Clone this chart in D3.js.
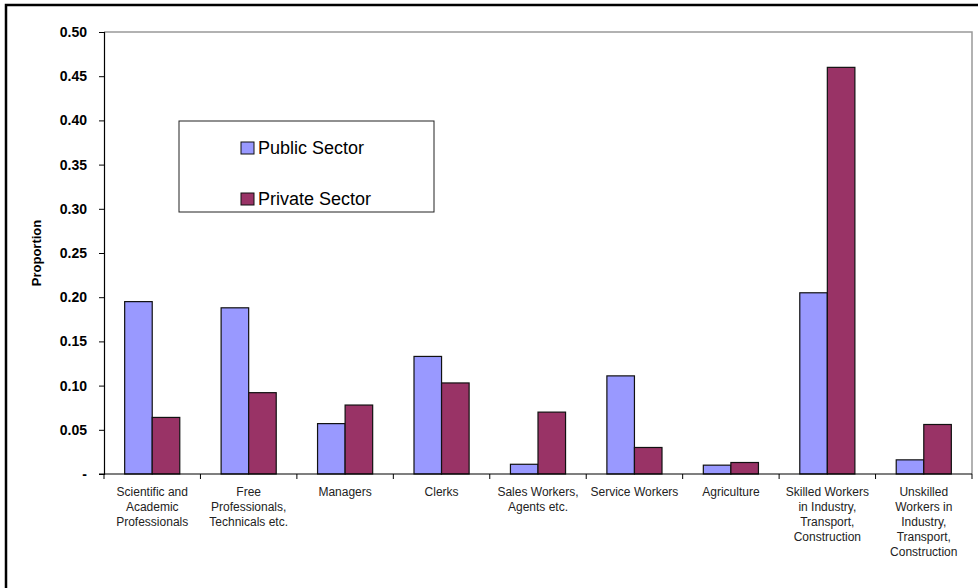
<!DOCTYPE html>
<html>
<head>
<meta charset="utf-8">
<script src="https://cdn.jsdelivr.net/npm/d3@7"></script>
<style>
  body { margin: 0; background: #fff; }
  svg { display: block; font-family: "Liberation Sans", Arial, sans-serif; }
</style>
</head>
<body>
<div id="chart"></div>
<script>
const WIDTH = 978;
const HEIGHT = 588;
const LEFT = 104;
const RIGHT = 972;
const TOP = 32;
const BOTTOM = 474;

const categories = [
    ['Scientific and', 'Academic', 'Professionals'],
    ['Free', 'Professionals,', 'Technicals etc.'],
    ['Managers'],
    ['Clerks'],
    ['Sales Workers,', 'Agents etc.'],
    ['Service Workers'],
    ['Agriculture'],
    ['Skilled Workers', 'in Industry,', 'Transport,', 'Construction'],
    ['Unskilled', 'Workers in', 'Industry,', 'Transport,', 'Construction']
];
const seriesNames = ['Public Sector', 'Private Sector'];
const publicSector = [0.195, 0.188, 0.057, 0.133, 0.011, 0.111, 0.010, 0.205, 0.016];
const privateSector = [0.064, 0.092, 0.078, 0.103, 0.070, 0.030, 0.013, 0.460, 0.056];
const yTicks = [0, 0.05, 0.10, 0.15, 0.20, 0.25, 0.30, 0.35, 0.40, 0.45, 0.50];
const colors = ['#9999ff', '#993366'];

const rows = categories.map((c, i) => ({ idx: i, lines: c, values: [publicSector[i], privateSector[i]] }));

const svg = d3.select('#chart')
    .append('svg')
    .attr('width', WIDTH)
    .attr('height', HEIGHT);

// outer frame (only top and left visible)
svg.append('rect')
    .attr('x', 6)
    .attr('y', 5)
    .attr('width', 1100)
    .attr('height', 1100)
    .attr('fill', 'none')
    .attr('stroke', '#000')
    .attr('stroke-width', 2.5);

// Scales
const xScale = d3.scaleBand()
    .domain(rows.map(d => d.idx))
    .range([LEFT, RIGHT])
    .padding(0);

const xInner = d3.scaleBand()
    .domain([0, 1])
    .range([0, xScale.bandwidth()])
    .paddingInner(0)
    .paddingOuter(0.75);

const yScale = d3.scaleLinear()
    .domain([0, 0.5])
    .range([BOTTOM, TOP]);

// plot area border (top and right)
svg.append('path')
    .attr('d', `M${LEFT},${TOP}H${RIGHT}V${BOTTOM}`)
    .attr('fill', 'none')
    .attr('stroke', '#999')
    .attr('stroke-width', 1.5);

// Bars
const groups = svg.selectAll('g.cat')
    .data(rows)
    .enter()
    .append('g')
    .attr('class', 'cat')
    .attr('transform', d => `translate(${xScale(d.idx)},0)`);

groups.selectAll('rect')
    .data(d => d.values.map((v, s) => ({ s: s, v: v })))
    .enter()
    .append('rect')
    .attr('x', d => xInner(d.s))
    .attr('y', d => yScale(d.v))
    .attr('width', xInner.bandwidth())
    .attr('height', d => BOTTOM - yScale(d.v))
    .attr('fill', d => colors[d.s])
    .attr('stroke', '#111')
    .attr('stroke-width', 1.2);

// Y axis
const yAxis = d3.axisLeft(yScale)
    .tickValues(yTicks)
    .tickSize(5)
    .tickPadding(12)
    .tickFormat(d => d === 0 ? '-' : d3.format('.2f')(d));

const yg = svg.append('g')
    .attr('transform', `translate(${LEFT},0)`)
    .call(yAxis);
yg.select('.domain').attr('stroke', '#000').attr('stroke-width', 1.2);
yg.selectAll('.tick line').attr('stroke', '#000');
yg.selectAll('.tick text')
    .attr('font-family', '"Liberation Sans", Arial, sans-serif')
    .attr('font-size', 14)
    .attr('font-weight', 'bold')
    .attr('fill', '#000');

// X axis line and boundary ticks
svg.append('line')
    .attr('x1', LEFT - 5)
    .attr('x2', RIGHT)
    .attr('y1', BOTTOM)
    .attr('y2', BOTTOM)
    .attr('stroke', '#000')
    .attr('stroke-width', 1.2);

const boundaries = rows.map(d => xScale(d.idx)).concat([RIGHT]);
svg.selectAll('line.xtick')
    .data(boundaries)
    .enter()
    .append('line')
    .attr('class', 'xtick')
    .attr('x1', d => d)
    .attr('x2', d => d)
    .attr('y1', BOTTOM)
    .attr('y2', BOTTOM + 5)
    .attr('stroke', '#000');

// Category labels
const labels = svg.selectAll('text.xlabel')
    .data(rows)
    .enter()
    .append('text')
    .attr('class', 'xlabel')
    .attr('x', d => xScale(d.idx) + xScale.bandwidth() / 2)
    .attr('y', 496)
    .attr('text-anchor', 'middle')
    .attr('font-size', 12)
    .attr('fill', '#222');

labels.selectAll('tspan')
    .data(d => d.lines.map((l, k) => ({ l: l, k: k, x: xScale(d.idx) + xScale.bandwidth() / 2 })))
    .enter()
    .append('tspan')
    .attr('x', d => d.x)
    .attr('dy', d => d.k === 0 ? 0 : 15)
    .text(d => d.l);

// Y title
svg.append('text')
    .attr('transform', 'translate(40.5,253) rotate(-90)')
    .attr('text-anchor', 'middle')
    .attr('font-size', 13)
    .attr('font-weight', 'bold')
    .attr('fill', '#000')
    .text('Proportion');

// Legend
const legend = svg.append('g');
legend.append('rect')
    .attr('x', 179)
    .attr('y', 121)
    .attr('width', 255)
    .attr('height', 91)
    .attr('fill', '#fff')
    .attr('stroke', '#222')
    .attr('stroke-width', 1);

const items = legend.selectAll('g.item')
    .data(seriesNames)
    .enter()
    .append('g')
    .attr('class', 'item')
    .attr('transform', (d, i) => `translate(241,${142 + i * 51})`);

items.append('rect')
    .attr('width', 13)
    .attr('height', 12)
    .attr('fill', (d, i) => colors[i])
    .attr('stroke', '#111')
    .attr('stroke-width', 1);

items.append('text')
    .attr('x', 17)
    .attr('y', 12)
    .attr('font-size', 18)
    .attr('fill', '#000')
    .text(d => d);
</script>
</body>
</html>
